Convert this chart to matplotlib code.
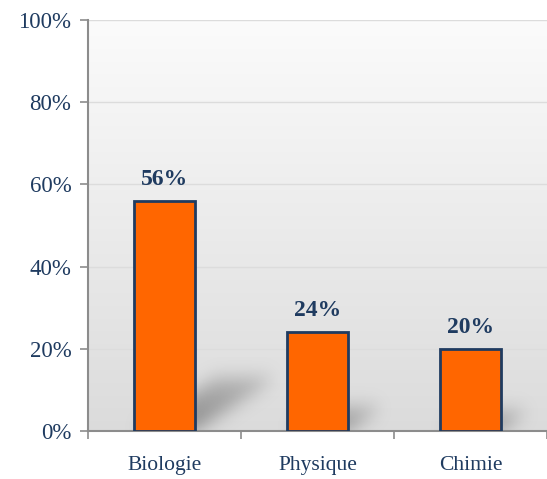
import numpy as np
import matplotlib.pyplot as plt
from matplotlib.path import Path

subjects = ['Biologie', 'Physique', 'Chimie']
shares = [56, 24, 20]
yticks = [0, 20, 40, 60, 80, 100]

navy = '#1f3b60'
orange = '#ff6600'
plt.rcParams['font.family'] = ['Liberation Serif', 'DejaVu Serif']

fig = plt.figure(figsize=(5.47, 4.79), dpi=100)
ax = fig.add_axes([88 / 547, 48 / 479, 459 / 547, 411 / 479])
ax.set_xlim(-0.5, 2.5)
ax.set_ylim(0, 100)

# vertical gradient in the plot area, light at the top
grad = np.linspace(0, 1, 256)[:, None]
top = np.array([0.985, 0.985, 0.985])
bot = np.array([0.86, 0.86, 0.86])
img = bot * (1 - grad[..., None]) + top * grad[..., None]
ax.imshow(img, extent=(-0.5, 2.5, 0, 100), origin='lower', aspect='auto', zorder=0)

# soft slanted shadows behind each bar
nx, ny = 600, 400
gx = np.linspace(-0.5, 2.5, nx)
gy = np.linspace(0, 100, ny)
GX, GY = np.meshgrid(gx, gy)
pts = np.column_stack([GX.ravel(), GY.ravel()])
mask = np.zeros(GX.shape)
w = 0.4
for i, h in enumerate(shares):
    x0, x1 = i - w / 2, i + w / 2
    hs, dx = 0.23 * h, 0.0095 * h
    poly = Path([(x0, 0), (x1, 0), (x1 + dx, hs), (x0 + dx, hs)])
    inside = poly.contains_points(pts).reshape(GX.shape).astype(float)
    fade = np.clip(1 - GY / (hs + 1e-9), 0, 1) * 0.5 + 0.5
    mask = np.maximum(mask, inside * fade)

def blur(a, r, axis):
    k = np.exp(-0.5 * (np.arange(-3 * r, 3 * r + 1) / r) ** 2)
    k /= k.sum()
    return np.apply_along_axis(lambda v: np.convolve(v, k, mode='same'), axis, a)

mask = blur(blur(mask, 9, 1), 9, 0)
shadow = np.zeros((ny, nx, 4))
shadow[..., :3] = 0.4
shadow[..., 3] = mask * 0.7
ax.imshow(shadow, extent=(-0.5, 2.5, 0, 100), origin='lower', aspect='auto', zorder=1)

for y in yticks[1:]:
    ax.axhline(y, color='#dcdcdc', lw=1, zorder=1.5)

x = np.arange(len(subjects))
bars = ax.bar(x, shares, width=w, color=orange, edgecolor=navy, linewidth=2, zorder=3)
for b, v in zip(bars, shares):
    ax.annotate(f'{v}%', (b.get_x() + b.get_width() / 2, v), xytext=(0, 8),
                textcoords='offset points', ha='center', va='bottom',
                fontsize=17, fontweight='bold', color=navy)

ax.set_yticks(yticks)
ax.set_yticklabels([f'{t}%' for t in yticks], fontsize=16.5, color=navy)
ax.set_xticks(x)
ax.set_xticklabels(subjects, fontsize=15.5, color=navy)
ax.tick_params(axis='x', length=0, pad=18)
ax.set_xticks([-0.5, 0.5, 1.5, 2.5], minor=True)
ax.tick_params(axis='x', which='minor', length=6, color='#8c8c8c', width=1.2)
ax.tick_params(axis='y', length=6, color='#8c8c8c', width=1.2, pad=6)

for s in ['top', 'right']:
    ax.spines[s].set_visible(False)
for s in ['left', 'bottom']:
    ax.spines[s].set_color('#8c8c8c')
    ax.spines[s].set_linewidth(1.5)

fig.savefig('out.png', dpi=100)
